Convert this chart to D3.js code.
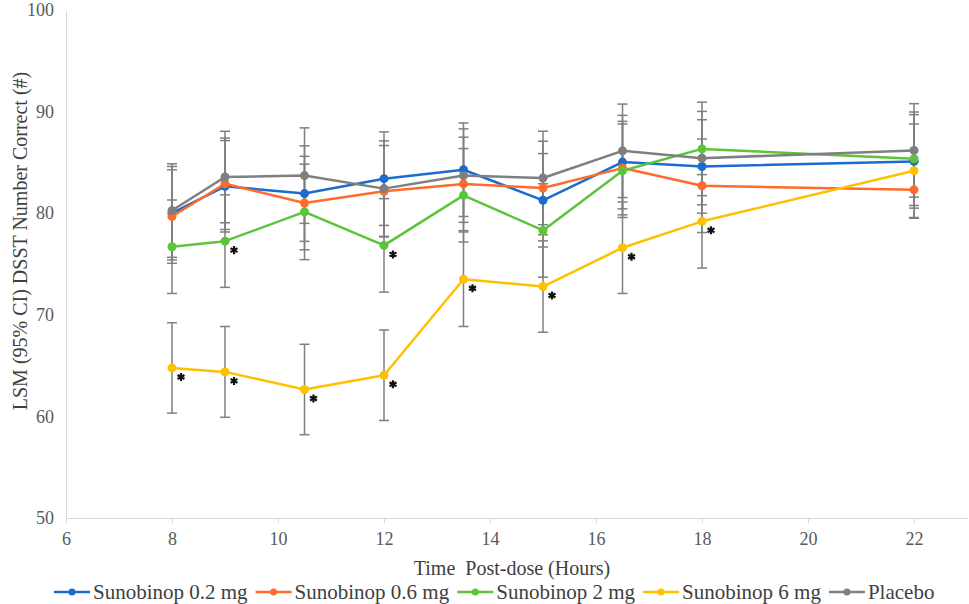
<!DOCTYPE html>
<html lang="en">
<head>
    <meta charset="UTF-8">
    <title>LSM DSST Number Correct by Time Post-dose</title>
    <script src="https://d3js.org/d3.v7.min.js"></script>
    <style>
        body {
            margin: 0;
            background: #fff;
        }

        .axis path,
        .axis line {
            stroke: #d9d9d9;
            stroke-width: 1px;
            shape-rendering: crispEdges;
        }

        .axis text {
            font-size: 18px;
            fill: #595959;
        }

        .title {
            font-size: 20px;
            fill: #404040;
            white-space: pre;
        }

        .legend text {
            font-size: 21px;
            fill: #404040;
        }
    </style>
</head>
<body>
    <svg id="chart" width="969" height="604"></svg>

    <script>
        const serifFont = "'Times New Roman', 'Liberation Serif', Times, 'DejaVu Serif', serif";

        // Horas post-dosis
        const hours = [8, 9, 10.5, 12, 13.5, 15, 16.5, 18, 22];

        const seriesNames = ["Sunobinop 0.2 mg", "Sunobinop 0.6 mg", "Sunobinop 2 mg", "Sunobinop 6 mg", "Placebo"];
        const seriesColors = ["#1c6cd0", "#ff6b2c", "#5cc43a", "#ffc000", "#7f7f7f"];

        // LSM
        const lsm02 = [80.0, 82.65, 81.93, 83.4, 84.28, 81.27, 85.03, 84.6, 85.1];
        const lsm06 = [79.67, 82.9, 81.0, 82.16, 82.88, 82.48, 84.44, 82.7, 82.3];
        const lsm2 = [76.7, 77.25, 80.13, 76.83, 81.76, 78.3, 84.18, 86.33, 85.36];
        const lsm6 = [64.77, 64.38, 62.65, 64.05, 73.5, 72.78, 76.6, 79.2, 84.18];
        const lsmPlacebo = [80.26, 83.56, 83.7, 82.42, 83.7, 83.47, 86.14, 85.42, 86.18];

        // Semiamplitud del IC 95%
        const ci02 = [4.6, 4.5, 4.7, 4.6, 4.6, 4.6, 4.6, 4.6, 4.6];
        const ci06 = [4.6, 4.5, 4.6, 4.5, 4.6, 4.6, 4.6, 4.6, 2.8];
        const ci2 = [4.6, 4.55, 4.7, 4.6, 4.6, 4.6, 4.6, 4.6, 4.6];
        const ci6 = [4.45, 4.47, 4.45, 4.45, 4.65, 4.5, 4.5, 4.6, 4.6];
        const ciPlacebo = [4.6, 4.5, 4.7, 4.7, 4.6, 4.6, 4.6, 4.6, 4.6];

        // Diferencias significativas vs placebo (*)
        const sig02 = [0, 0, 0, 0, 0, 0, 0, 0, 0];
        const sig06 = [0, 0, 0, 0, 0, 0, 0, 0, 0];
        const sig2 = [0, 1, 0, 1, 0, 0, 0, 0, 0];
        const sig6 = [1, 1, 1, 1, 1, 1, 1, 1, 0];
        const sigPlacebo = [0, 0, 0, 0, 0, 0, 0, 0, 0];

        const xTicks = [6, 8, 10, 12, 14, 16, 18, 20, 22];
        const yTicks = [50, 60, 70, 80, 90, 100];

        const lsmAll = [lsm02, lsm06, lsm2, lsm6, lsmPlacebo];
        const ciAll = [ci02, ci06, ci2, ci6, ciPlacebo];
        const sigAll = [sig02, sig06, sig2, sig6, sigPlacebo];

        const series = seriesNames.map((name, s) => ({
            name: name,
            color: seriesColors[s],
            values: hours.map((h, i) => ({
                hour: h,
                lsm: lsmAll[s][i],
                lo: lsmAll[s][i] - ciAll[s][i],
                hi: lsmAll[s][i] + ciAll[s][i],
                sig: sigAll[s][i]
            }))
        }));

        const svg = d3.select("#chart").style("font-family", serifFont);

        const xScale = d3.scaleLinear().domain([6, 23]).range([66, 967]);
        const yScale = d3.scaleLinear().domain([50, 100]).range([518, 10]);

        // Ejes
        svg.append("g")
            .attr("class", "axis x-axis")
            .attr("transform", "translate(0,518)")
            .call(d3.axisBottom(xScale).tickValues(xTicks).tickSizeInner(5).tickSizeOuter(0).tickPadding(9))
            .attr("font-family", null);

        svg.append("g")
            .attr("class", "axis y-axis")
            .attr("transform", "translate(66,0)")
            .call(d3.axisLeft(yScale).tickValues(yTicks).tickSize(0).tickPadding(12))
            .attr("font-family", null);

        svg.select(".y-axis").selectAll(".tick line").remove();
        svg.selectAll("text").style("font-family", serifFont);

        // Titulos de ejes
        svg.append("text")
            .attr("class", "title")
            .attr("x", 512)
            .attr("y", 575)
            .attr("text-anchor", "middle")
            .style("font-family", serifFont)
            .text("Time  Post-dose (Hours)");

        svg.append("text")
            .attr("class", "title")
            .attr("transform", "rotate(-90)")
            .attr("x", -241)
            .attr("y", 27)
            .attr("text-anchor", "middle")
            .style("font-family", serifFont)
            .text("LSM (95% CI) DSST Number Correct (#)");

        // Barras de error
        const errGroup = svg.append("g").attr("class", "errors")
            .attr("stroke", "#7f7f7f")
            .attr("stroke-width", 1.5);

        series.forEach(s => {
            const g = errGroup.append("g");
            g.selectAll(".stem")
                .data(s.values)
                .enter().append("line")
                .attr("x1", d => xScale(d.hour))
                .attr("x2", d => xScale(d.hour))
                .attr("y1", d => yScale(d.lo))
                .attr("y2", d => yScale(d.hi));
            ["lo", "hi"].forEach(k => {
                g.selectAll(".cap-" + k)
                    .data(s.values)
                    .enter().append("line")
                    .attr("x1", d => xScale(d.hour) - 5)
                    .attr("x2", d => xScale(d.hour) + 5)
                    .attr("y1", d => yScale(d[k]))
                    .attr("y2", d => yScale(d[k]));
            });
        });

        // Lineas y marcadores
        const line = d3.line()
            .x(d => xScale(d.hour))
            .y(d => yScale(d.lsm));

        series.forEach(s => {
            svg.append("path")
                .datum(s.values)
                .attr("fill", "none")
                .attr("stroke", s.color)
                .attr("stroke-width", 2.5)
                .attr("stroke-linejoin", "round")
                .attr("d", line);

            svg.append("g").selectAll("circle")
                .data(s.values)
                .enter().append("circle")
                .attr("cx", d => xScale(d.hour))
                .attr("cy", d => yScale(d.lsm))
                .attr("r", 4.5)
                .attr("fill", s.color);
        });

        // Asteriscos
        const star = d3.symbol().type(d3.symbolAsterisk).size(45);
        series.forEach(s => {
            svg.append("g").selectAll("path")
                .data(s.values.filter(d => d.sig))
                .enter().append("path")
                .attr("transform", d => `translate(${xScale(d.hour) + 9},${yScale(d.lsm) + 9})`)
                .attr("d", star)
                .attr("fill", "none")
                .attr("stroke", "#111")
                .attr("stroke-width", 2.2);
        });

        // Leyenda
        const legend = svg.append("g").attr("class", "legend");
        let lx = 54;
        series.forEach(s => {
            const item = legend.append("g");
            item.append("line")
                .attr("x1", lx).attr("x2", lx + 36)
                .attr("y1", 592).attr("y2", 592)
                .attr("stroke", s.color)
                .attr("stroke-width", 2.5);
            item.append("circle")
                .attr("cx", lx + 18).attr("cy", 592)
                .attr("r", 3.5)
                .attr("fill", s.color);
            const t = item.append("text")
                .attr("x", lx + 39)
                .attr("y", 599)
                .style("font-family", serifFont)
                .text(s.name);
            lx += 39 + t.node().getComputedTextLength() + 8;
        });
    </script>
</body>
</html>
